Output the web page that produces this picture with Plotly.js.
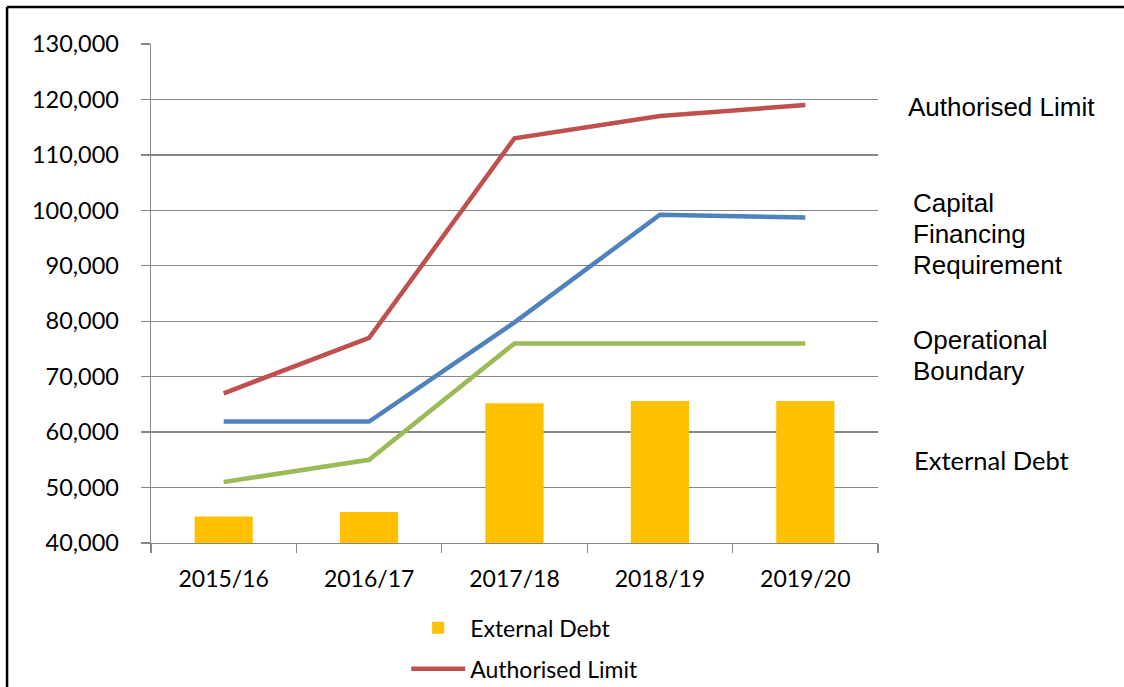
<!DOCTYPE html>
<html>
<head>
<meta charset="utf-8">
<script src="https://cdn.plot.ly/plotly-3.0.1.min.js"></script>
<style>html,body{margin:0;padding:0;background:#fff;}#chart{width:1124px;height:687px;}</style>
</head>
<body>
<div id="chart"></div>
<script>
const years = ["2015/16", "2016/17", "2017/18", "2018/19", "2019/20"];
const externalDebt = [44800, 45600, 65200, 65600, 65600];
const authorisedLimit = [67000, 77000, 113000, 117000, 119000];
const capitalFinancingRequirement = [61900, 61900, 79800, 99200, 98700];
const operationalBoundary = [51000, 55000, 76000, 76000, 76000];
const yTickValues = [40000, 50000, 60000, 70000, 80000, 90000, 100000, 110000, 120000, 130000];

const GRID = "#868686";
const calibri = "Lato, 'Open Sans', sans-serif";
const arial = "'Liberation Sans', Arial, sans-serif";

const traces = [
  {type: "bar", name: "External Debt", x: years, y: externalDebt,
   marker: {color: "#FFC000"}, legendgroup: "a", hoverinfo: "x+y"},
  {type: "scatter", mode: "lines", name: "Authorised Limit", x: years, y: authorisedLimit,
   line: {color: "#C0504D", width: 4.5}, legendgroup: "b"},
  {type: "scatter", mode: "lines", name: "Capital Financing Requirement", x: years, y: capitalFinancingRequirement,
   line: {color: "#4F81BD", width: 4.5}, showlegend: false},
  {type: "scatter", mode: "lines", name: "Operational Boundary", x: years, y: operationalBoundary,
   line: {color: "#9BBB59", width: 4.5}, showlegend: false}
];

function label(text, x, y, family, size) {
  return {text: text, xref: "paper", yref: "paper", x: x, y: y, xanchor: "left", yanchor: "middle",
          align: "left", showarrow: false, font: {family: family, size: size, color: "#000"}};
}

const layout = {
  width: 1124, height: 687,
  margin: {l: 151, r: 246, t: 44, b: 144, pad: 0, autoexpand: false},
  paper_bgcolor: "#fff", plot_bgcolor: "#fff",
  font: {family: calibri, size: 23, color: "#000"},
  bargap: 0.6,
  showlegend: true,
  legend: {x: 0.351, xanchor: "left", y: -0.127, yanchor: "top", orientation: "v",
           itemwidth: 54, traceorder: "grouped", tracegroupgap: 8,
           font: {family: calibri, size: 23, color: "#000"}, bgcolor: "rgba(0,0,0,0)"},
  xaxis: {type: "category", tickson: "boundaries", ticks: "outside", ticklen: 9,
          tickcolor: GRID, tickwidth: 1.3, showline: true, linecolor: GRID, linewidth: 1.3,
          showgrid: false, ticklabelstandoff: 15, tickfont: {family: calibri, size: 23, color: "#000"}},
  yaxis: {range: [40000, 130000], tickvals: yTickValues, tickformat: ",d", ticks: "outside", ticklen: 9,
          tickcolor: GRID, tickwidth: 1.3, showline: true, linecolor: GRID, linewidth: 1.3,
          showgrid: true, gridcolor: GRID, gridwidth: 1.3, zeroline: false,
          ticklabelstandoff: 17, tickfont: {family: calibri, size: 23.5, color: "#000"}},
  annotations: [
    label("Authorised Limit", 1.038, 0.874, arial, 26),
    label("Capital", 1.046, 0.682, arial, 26),
    label("Financing", 1.046, 0.620, arial, 26),
    label("Requirement", 1.046, 0.558, arial, 26),
    label("Operational", 1.046, 0.407, arial, 26),
    label("Boundary", 1.046, 0.345, arial, 26),
    label("External Debt", 1.047, 0.167, calibri, 25.5)
  ],
  shapes: [
    {type: "line", xref: "paper", yref: "paper", x0: -0.198, x1: 1.34, y0: 1.074, y1: 1.074, line: {color: "#000", width: 2.5}},
    {type: "line", xref: "paper", yref: "paper", x0: -0.198, x1: -0.198, y0: 1.074, y1: -0.32, line: {color: "#000", width: 2.5}}
  ]
};

Plotly.newPlot("chart", traces, layout, {displayModeBar: false, staticPlot: true});
</script>
</body>
</html>
